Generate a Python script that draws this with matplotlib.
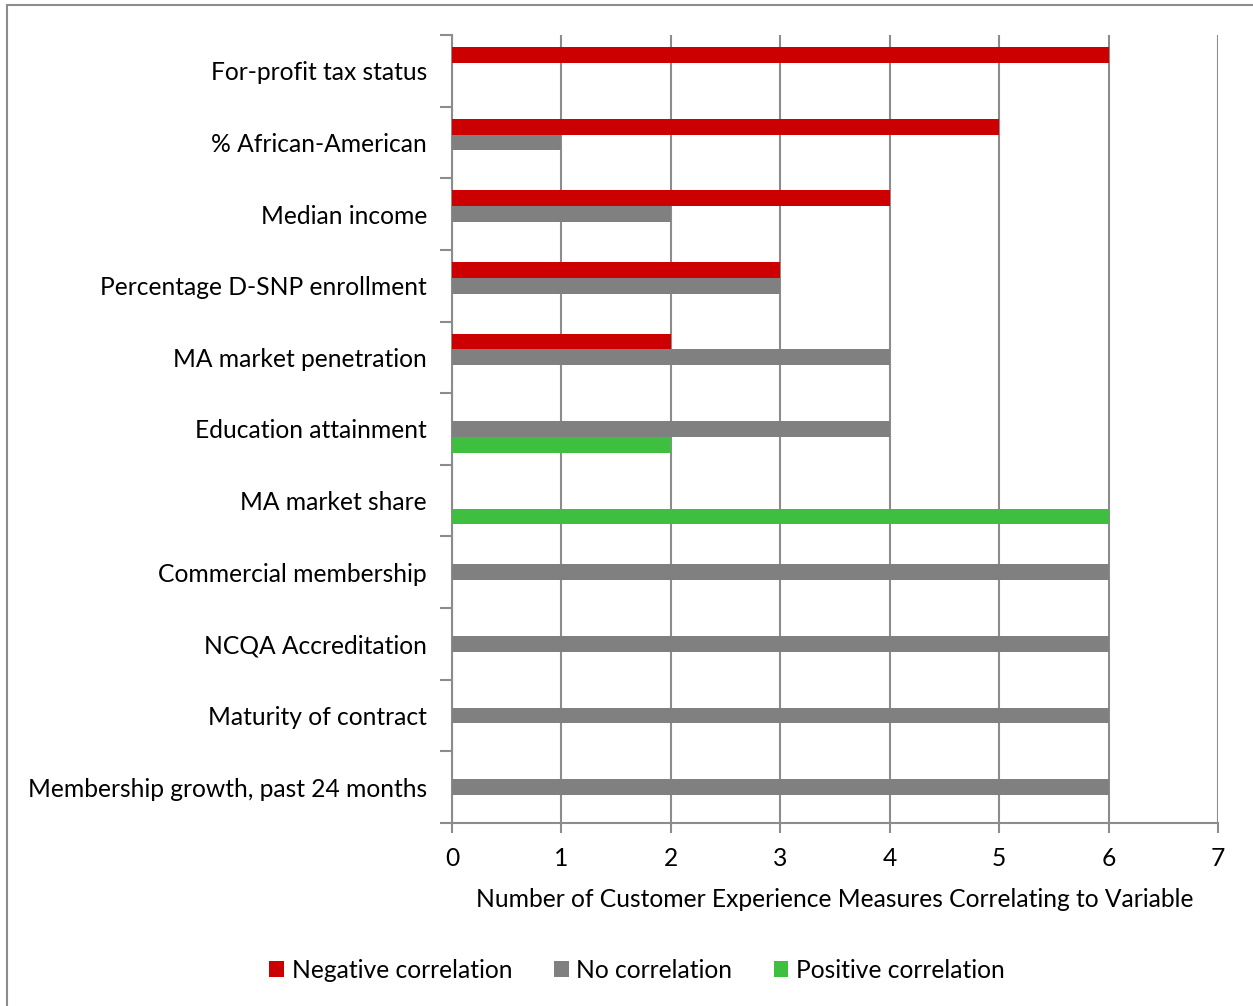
import matplotlib.pyplot as plt
import matplotlib.patches as mpatches
import numpy as np

variables = [
    "For-profit tax status",
    "% African-American",
    "Median income",
    "Percentage D-SNP enrollment",
    "MA market penetration",
    "Education attainment",
    "MA market share",
    "Commercial membership",
    "NCQA Accreditation",
    "Maturity of contract",
    "Membership growth, past 24 months",
]
negative = [6, 5, 4, 3, 2, 0, 0, 0, 0, 0, 0]
no_corr = [0, 1, 2, 3, 4, 4, 0, 6, 6, 6, 6]
positive = [0, 0, 0, 0, 0, 2, 6, 0, 0, 0, 0]
series_names = ["Negative correlation", "No correlation", "Positive correlation"]
colors = ["#CC0000", "#808080", "#3FBF3F"]

plt.rcParams['font.family'] = ['Lato', 'DejaVu Sans']
fs = 17.7

fig = plt.figure(figsize=(12.53, 10.06), dpi=100)
ax = fig.add_axes([452 / 1253, 1 - 823 / 1006, (1218 - 452) / 1253, (823 - 35) / 1006])

# outer chart frame (only left and top edges fall inside the image)
fig.patches.append(mpatches.Rectangle((7 / 1253, -0.1), 1.2, 1 - 5 / 1006 + 0.1,
                                      transform=fig.transFigure, fill=False,
                                      edgecolor="#8c8c8c", linewidth=1.5))

y = np.arange(len(variables))
h = 0.222
for vals, off, col, name in zip([negative, no_corr, positive], [-h, 0, h], colors, series_names):
    ax.barh(y + off, vals, height=h, color=col, label=name, zorder=3)

ax.set_xlim(0, 7)
ax.set_ylim(len(variables) - 0.5, -0.5)
ax.set_xticks(range(8))
ax.tick_params(axis='x', labelsize=fs, length=7, width=1.5, color="#8c8c8c", pad=10)
ax.grid(axis='x', color="#8c8c8c", linewidth=1.5, zorder=0)

ax.set_yticks(np.arange(len(variables) + 1) - 0.5)
ax.set_yticklabels([])
ax.tick_params(axis='y', which='major', length=9, width=1.5, color="#8c8c8c")
ax.set_yticks(y, minor=True)
ax.set_yticklabels(variables, minor=True, fontsize=fs)
ax.tick_params(axis='y', which='minor', length=0, pad=18)

for s in ['top', 'right']:
    ax.spines[s].set_visible(False)
for s in ['left', 'bottom']:
    ax.spines[s].set_color("#8c8c8c")
    ax.spines[s].set_linewidth(1.5)

ax.set_xlabel("Number of Customer Experience Measures Correlating to Variable",
              fontsize=fs, labelpad=13)

fig.legend(loc='center', bbox_to_anchor=(637 / 1253, 1 - 970 / 1006), ncol=3,
           frameon=False, fontsize=fs, handlelength=0.6, handleheight=0.6,
           handletextpad=0.3, columnspacing=1.7)

fig.savefig("out.png", dpi=100)
